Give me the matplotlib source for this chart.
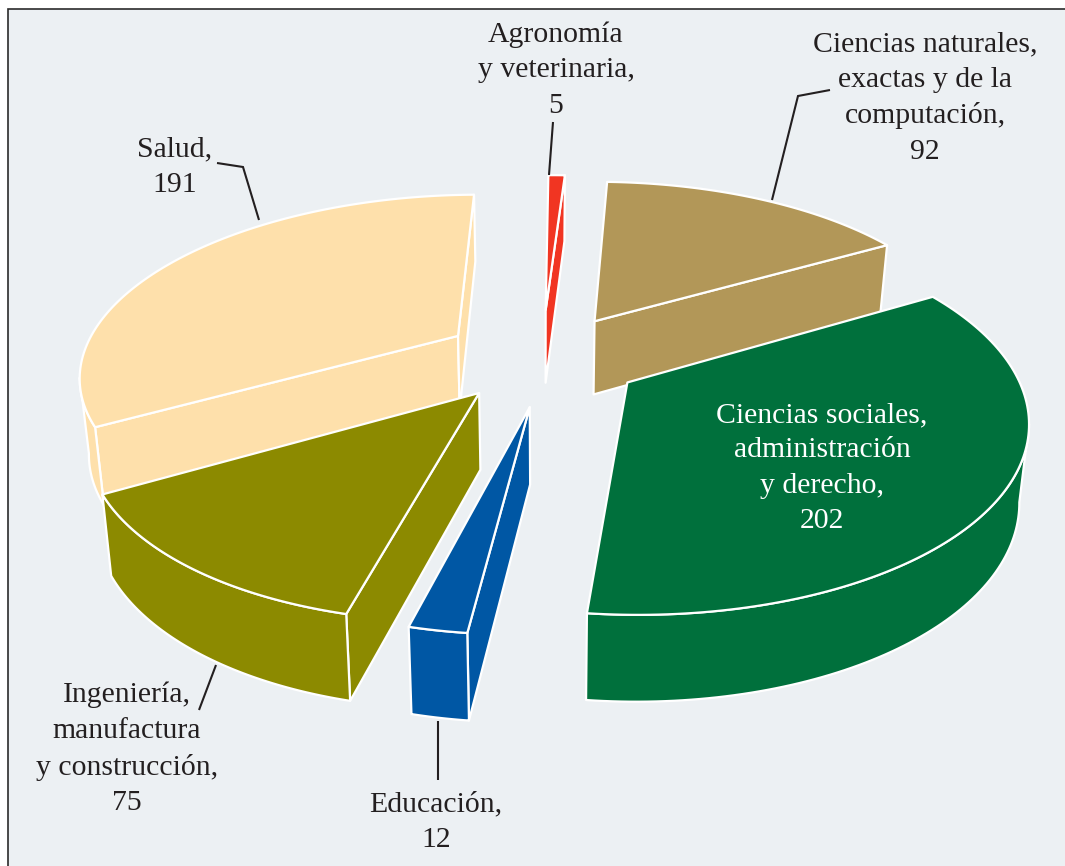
import numpy as np
import matplotlib
matplotlib.use('Agg')
import matplotlib.pyplot as plt
from matplotlib.patches import Polygon, Rectangle

# clockwise from the top
sectors = ['Agronomía y veterinaria', 'Ciencias naturales, exactas y de la computación',
           'Ciencias sociales, administración y derecho', 'Educación',
           'Ingeniería, manufactura y construcción', 'Salud']
values = [5, 92, 202, 12, 75, 191]
colors = ['#f13522', '#b29758', '#00703c', '#0057a4', '#8c8a00', '#fee0ab']
explode = [0.27, 0.255, 0.26, 0.27, 0.26, 0.26]
radius = [1.0, 1.02, 1.01, 0.95, 0.975, 1.0]
# small per slice corrections in pixels
nudge = [(0, 0), (3, 3), (2, 2), (8, 3), (0, 0), (-2, 3)]
draw_order = [5, 1, 0, 2, 4, 3]

BG = '#ecf0f3'
TXT = '#231f20'

# pie plane -> image pixels (perspective)
CX, CY = 542, 355
AX, BX, AY, BY, K = 377, 4, -2, -175.4, 0.188
DEPTH = 75


def project(x, y):
    w = 1 + K * y
    sx = (AX * x + BX * y) / w
    sy = (AY * x + BY * y) / w
    return CX + sx, CY + sy, w


def top_pts(x, y):
    sx, sy, w = project(x, y)
    return np.column_stack([sx, sy])


def bottom_pts(x, y):
    sx, sy, w = project(x, y)
    return np.column_stack([CX + (sx - CX) * 0.98, sy + DEPTH / w ** 0.6])


def wedge(ax, start, end, off, r, shift, color):
    mid = np.radians((start + end) / 2)
    ox, oy = off * np.sin(mid), off * np.cos(mid)
    t = np.radians(np.linspace(start, end, 120))
    x = ox + r * np.sin(t)
    y = oy + r * np.cos(t)
    apex_x, apex_y = np.array([ox]), np.array([oy])
    kw = dict(facecolor=color, edgecolor='white', linewidth=1.6, joinstyle='round')

    top_arc = top_pts(x, y) + shift
    bot_arc = bottom_pts(x, y) + shift
    apex = top_pts(apex_x, apex_y)[0] + shift
    apex_b = bottom_pts(apex_x, apex_y)[0] + shift
    inner = top_arc[len(t) // 2] - apex

    # radial side faces, only the ones that look at the viewer
    for i in (0, -1):
        d = top_arc[i] - apex
        if (d[0] * inner[1] - d[1] * inner[0]) * d[0] < 0:
            ax.add_patch(Polygon([apex, top_arc[i], bot_arc[i], apex_b], **kw))

    # outer wall where the arc runs right to left on screen
    front = np.append(np.diff(top_arc[:, 0]) < 0, False)
    front[1:] |= front[:-1].copy()
    if front.sum() > 1:
        wall = np.vstack([top_arc[front], bot_arc[front][::-1]])
        ax.add_patch(Polygon(wall, **kw))

    ax.add_patch(Polygon(np.vstack([apex, top_arc]), **kw))


fig = plt.figure(figsize=(10.65, 8.66), dpi=100, facecolor='white')
ax = fig.add_axes([0, 0, 1, 1])
ax.set_xlim(0, 1065)
ax.set_ylim(866, 0)
ax.axis('off')

# frame
ax.add_patch(Rectangle((7.5, 9), 1070, 870, facecolor=BG, edgecolor='#2b2b2b', linewidth=1.2))

edges = np.cumsum([0] + values) / sum(values) * 360
for i in draw_order:
    wedge(ax, edges[i], edges[i + 1], explode[i], radius[i], nudge[i], colors[i])

# leader lines
leaders = [
    ([217, 243, 259], [163, 167, 220]),
    ([830, 798, 772], [90, 96, 200]),
    ([216, 199], [665, 710]),
    ([438, 438], [721, 780]),
    ([553, 549], [122, 175]),
]
for lx, ly in leaders:
    ax.plot(lx, ly, color=TXT, lw=1.5, solid_capstyle='butt', solid_joinstyle='miter')

labels = [
    (556, 70, 'Agronomía\ny veterinaria,\n5', TXT),
    (925, 98, 'Ciencias naturales,\nexactas y de la\ncomputación,\n92', TXT),
    (822, 468, 'Ciencias sociales,\nadministración\ny derecho,\n202', 'white'),
    (436, 822, 'Educación,\n12', TXT),
    (127, 749, 'Ingeniería,\nmanufactura\ny construcción,\n75', TXT),
    (175, 167, 'Salud,\n191', TXT),
]
for lx, ly, s, c in labels:
    ax.text(lx, ly, s, color=c, ha='center', va='center', fontsize=21.4,
            family=['Liberation Serif', 'DejaVu Serif'], linespacing=1.47)

fig.savefig('out.png', dpi=100)
